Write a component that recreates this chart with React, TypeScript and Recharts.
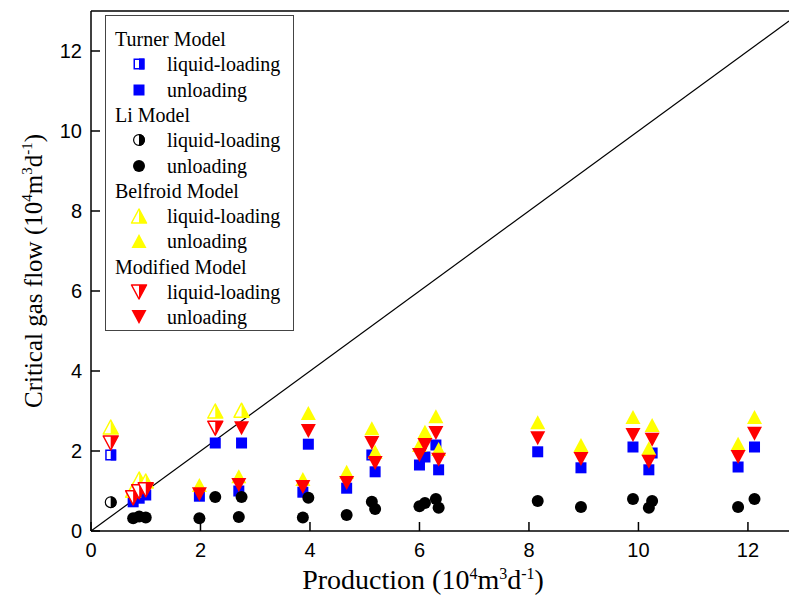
import React from "react";
import { ScatterChart, Scatter, XAxis, YAxis, ReferenceLine, Legend, Label } from "recharts";

// Production rate of each well (10^4 m3/d)
const production = [
  0.36, 0.77, 0.88, 1.0, 1.98, 2.27, 2.7, 2.75, 3.87, 3.97, 4.67, 5.13,
  5.19, 6.0, 6.1, 6.3, 6.35, 8.16, 8.95, 9.9, 10.19, 10.25, 11.82, 12.12,
];
// Critical gas flow predicted by each model for the same wells
const turner = [
  1.9, 0.73, 0.82, 0.9, 0.87, 2.2, 1.0, 2.2, 0.97, 2.17, 1.07, 1.9,
  1.48, 1.65, 1.85, 2.15, 1.53, 1.98, 1.58, 2.1, 1.53, 1.95, 1.6, 2.1,
];
const li = [
  0.72, 0.32, 0.36, 0.34, 0.32, 0.85, 0.35, 0.85, 0.34, 0.83, 0.4, 0.73,
  0.55, 0.62, 0.7, 0.8, 0.58, 0.75, 0.6, 0.8, 0.58, 0.75, 0.6, 0.8,
];
const belfroid = [
  2.6, 1.02, 1.3, 1.25, 1.15, 3.0, 1.37, 3.02, 1.3, 2.95, 1.48, 2.57,
  1.98, 2.15, 2.48, 2.87, 2.05, 2.72, 2.15, 2.85, 2.07, 2.65, 2.18, 2.85,
];
const modified = [
  2.2, 0.83, 0.98, 1.03, 0.92, 2.57, 1.15, 2.57, 1.1, 2.5, 1.2, 2.2,
  1.7, 1.9, 2.15, 2.45, 1.78, 2.32, 1.8, 2.4, 1.73, 2.28, 1.85, 2.43,
];
const xTicks = [0, 2, 4, 6, 8, 10, 12];
const yTicks = [0, 2, 4, 6, 8, 10, 12];

const BLUE = "#0000ff";
const BLACK = "#000000";
const YELLOW = "#ffff00";
const RED = "#ff0000";
const SERIF = "'Liberation Serif', 'Times New Roman', serif";
const SANS = "'Liberation Sans', Arial, sans-serif";

type Kind = "square" | "circle" | "up" | "down";

type Point = { x: number; y: number; loading: boolean };

// a well is liquid-loading when its production is below the critical rate
const toPoints = (values: number[]): Point[] =>
  production.map((x, i) => ({ x, y: values[i], loading: values[i] > x }));

function Marker({ kind, cx, cy, half }: { kind: Kind; cx: number; cy: number; half: boolean }) {
  if (kind === "square") {
    const h = 5.5;
    if (!half) return <rect x={cx - h} y={cy - h} width={2 * h} height={2 * h} fill={BLUE} />;
    return (
      <g>
        <rect x={cx - h + 0.75} y={cy - h + 0.75} width={2 * h - 1.5} height={2 * h - 1.5} fill="#fff" stroke={BLUE} strokeWidth={1.5} />
        <rect x={cx} y={cy - h} width={h} height={2 * h} fill={BLUE} />
      </g>
    );
  }
  if (kind === "circle") {
    const r = 6;
    if (!half) return <circle cx={cx} cy={cy} r={r} fill={BLACK} />;
    return (
      <g>
        <circle cx={cx} cy={cy} r={r - 0.6} fill="#fff" stroke={BLACK} strokeWidth={1.2} />
        <path d={`M${cx},${cy - r} A${r},${r} 0 0 1 ${cx},${cy + r} Z`} fill={BLACK} />
      </g>
    );
  }
  const w = 7.5;
  const h = 7;
  const color = kind === "up" ? YELLOW : RED;
  const tip = kind === "up" ? cy - h : cy + h;
  const base = kind === "up" ? cy + h : cy - h;
  const full = `${cx},${tip} ${cx + w},${base} ${cx - w},${base}`;
  if (!half) return <polygon points={full} fill={color} />;
  return (
    <g>
      <polygon points={full} fill="#fff" stroke={color} strokeWidth={1.5} strokeLinejoin="round" />
      <polygon points={`${cx},${tip} ${cx + w},${base} ${cx},${base}`} fill={color} />
    </g>
  );
}

const shapeFor = (kind: Kind) => (p: any) =>
  <Marker kind={kind} cx={p.cx} cy={p.cy} half={p.payload.loading} />;

const legendGroups: { title: string; kind: Kind }[] = [
  { title: "Turner Model", kind: "square" },
  { title: "Li Model", kind: "circle" },
  { title: "Belfroid Model", kind: "up" },
  { title: "Modified Model", kind: "down" },
];

function LegendBox() {
  const rowH = 25.3;
  const rows: React.ReactNode[] = [];
  legendGroups.forEach((g, gi) => {
    const top = 23 + gi * 3 * rowH;
    rows.push(
      <div key={g.title} style={{ position: "absolute", left: 9, top: top - 12, lineHeight: "24px" }}>
        {g.title}
      </div>
    );
    ["liquid-loading", "unloading"].forEach((name, k) => {
      const cy = top + (k + 1) * rowH;
      rows.push(
        <svg key={g.title + name} width={20} height={20} style={{ position: "absolute", left: 23, top: cy - 10 }}>
          <Marker kind={g.kind} cx={10} cy={10} half={k === 0} />
        </svg>,
        <div key={g.title + name + "t"} style={{ position: "absolute", left: 61, top: cy - 12, lineHeight: "24px" }}>
          {name}
        </div>
      );
    });
  });
  return (
    <div
      style={{
        position: "relative",
        width: 189,
        height: 316,
        boxSizing: "border-box",
        border: "1px solid #444",
        background: "#fff",
        fontFamily: SERIF,
        fontSize: 20,
        color: "#000",
      }}
    >
      {rows}
    </div>
  );
}

function UnitSpans({ sup }: { sup: number }) {
  const d = Math.round(sup * 0.65);
  return (
    <>
      <tspan>(10</tspan>
      <tspan dy={-d} fontSize={sup}>4</tspan>
      <tspan dy={d}>m</tspan>
      <tspan dy={-d} fontSize={sup}>3</tspan>
      <tspan dy={d}>d</tspan>
      <tspan dy={-d} fontSize={sup}>-1</tspan>
      <tspan dy={d}>)</tspan>
    </>
  );
}

function XTitle(props: any) {
  const { x, y, width } = props.viewBox;
  return (
    <text x={x + width / 2 - 17} y={y + 58} textAnchor="middle" fontFamily={SERIF} fontSize={28} fill="#000">
      <tspan>Production </tspan>
      <UnitSpans sup={16} />
    </text>
  );
}

function YTitle(props: any) {
  const { y, height } = props.viewBox;
  const cx = 42;
  const cy = y + height / 2;
  return (
    <text x={cx} y={cy} transform={`rotate(-90 ${cx} ${cy})`} textAnchor="middle" fontFamily={SERIF} fontSize={25} fill="#000">
      <tspan>Critical gas flow </tspan>
      <UnitSpans sup={15} />
    </text>
  );
}

export default function App() {
  const tickStyle = { fill: "#000", fontSize: 20, fontFamily: SANS };
  return (
    <div style={{ position: "absolute", left: 0, top: 0, background: "#fff" }}>
      <ScatterChart width={789} height={601} margin={{ top: 11, right: 0, bottom: 0, left: 0 }}>
        <XAxis
          type="number"
          dataKey="x"
          domain={[0, 12.75]}
          ticks={xTicks}
          allowDataOverflow
          height={70}
          tickSize={-9}
          tickMargin={21}
          axisLine={{ stroke: "#000", strokeWidth: 1.5 }}
          tickLine={{ stroke: "#000", strokeWidth: 1.5 }}
          tick={tickStyle}
        >
          <Label content={XTitle} />
        </XAxis>
        <YAxis
          type="number"
          dataKey="y"
          domain={[0, 13]}
          ticks={yTicks}
          allowDataOverflow
          width={91}
          tickSize={-9}
          tickMargin={18}
          axisLine={{ stroke: "#000", strokeWidth: 1.5 }}
          tickLine={{ stroke: "#000", strokeWidth: 1.5 }}
          tick={tickStyle}
        >
          <Label content={YTitle} />
        </YAxis>
        <ReferenceLine y={13} stroke="#000" strokeWidth={1.5} />
        <ReferenceLine
          segment={[{ x: 0, y: 0 }, { x: 12.75, y: 12.75 }]}
          stroke="#000"
          strokeWidth={1.2}
        />
        <Legend
          layout="vertical"
          align="center"
          verticalAlign="middle"
          content={() => <LegendBox />}
          wrapperStyle={{ left: 105, top: 15, width: 189, height: 316 }}
        />
        <Scatter name="Turner Model" data={toPoints(turner)} shape={shapeFor("square")} isAnimationActive={false} />
        <Scatter name="Li Model" data={toPoints(li)} shape={shapeFor("circle")} isAnimationActive={false} />
        <Scatter name="Belfroid Model" data={toPoints(belfroid)} shape={shapeFor("up")} isAnimationActive={false} />
        <Scatter name="Modified Model" data={toPoints(modified)} shape={shapeFor("down")} isAnimationActive={false} />
      </ScatterChart>
    </div>
  );
}
